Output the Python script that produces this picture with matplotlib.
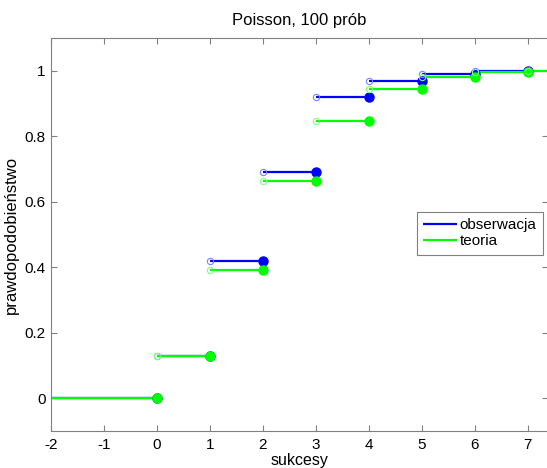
import numpy as np
import matplotlib.pyplot as plt

plt.rcParams['font.family'] = ['Liberation Sans', 'DejaVu Sans']
plt.rcParams['font.size'] = 11

# step edges and cumulative probabilities per step
edges = [-2, 0, 1, 2, 3, 4, 5, 6, 7, 8]
obs_cdf = [0.0, 0.13, 0.42, 0.69, 0.92, 0.97, 0.99, 1.00]
theory_cdf = [0.0, 0.129, 0.393, 0.663, 0.848, 0.943, 0.982, 0.995, 0.999]

x_ticks = [-2, -1, 0, 1, 2, 3, 4, 5, 6, 7]
y_ticks = [0, 0.2, 0.4, 0.6, 0.8, 1.0]


def draw_steps(ax, levels, color, light, label):
    for i, lev in enumerate(levels):
        x0, x1 = edges[i], edges[i + 1]
        line, = ax.plot([x0, x1], [lev, lev], color=color, lw=1.6,
                        solid_capstyle='butt', zorder=2)
        if i > 0:
            ax.plot(x0, lev, 'o', mfc='none', mec=light, ms=4.5, mew=0.8,
                    zorder=3)
        ax.plot(x1, lev, 'o', color=color, ms=6.5, zorder=3)
        if i == 0:
            line.set_label(label)


fig = plt.figure(figsize=(5.47, 4.68), dpi=100)
ax = fig.add_axes([51 / 547, 1 - 431 / 468, 497 / 547, 393 / 468])

draw_steps(ax, obs_cdf, '#0000ff', '#8080ff', 'obserwacja')
draw_steps(ax, theory_cdf, '#00ff00', '#80ff80', 'teoria')

ax.set_xlim(-2, -2 + 497 / 52.97)
ax.set_ylim(-0.1, 1.1)
ax.set_xticks(x_ticks)
ax.set_xticklabels([str(t) for t in x_ticks])
ax.set_yticks(y_ticks)
ax.set_yticklabels(['0', '0.2', '0.4', '0.6', '0.8', '1'])
ax.tick_params(direction='in', length=4, color='#808080', top=True,
               right=True, labelsize=11)
ax.tick_params(axis='x', pad=5)
ax.tick_params(axis='y', pad=4)
for sp in ax.spines.values():
    sp.set_color('#808080')

ax.set_title('Poisson, 100 prób', fontsize=12, pad=9)
ax.set_xlabel('sukcesy', fontsize=11.5, labelpad=1)
ax.set_ylabel('prawdopodobieństwo', fontsize=12, labelpad=4)

leg = ax.legend(loc='upper left', bbox_to_anchor=(417 / 547, 1 - 212 / 468),
                bbox_transform=fig.transFigure, fancybox=False,
                framealpha=1, edgecolor='#808080', handlelength=2.2,
                handletextpad=0.2, borderpad=0.4, labelspacing=0.15,
                borderaxespad=0, fontsize=11)
leg.get_frame().set_linewidth(0.8)

fig.savefig('out.png', dpi=100)
